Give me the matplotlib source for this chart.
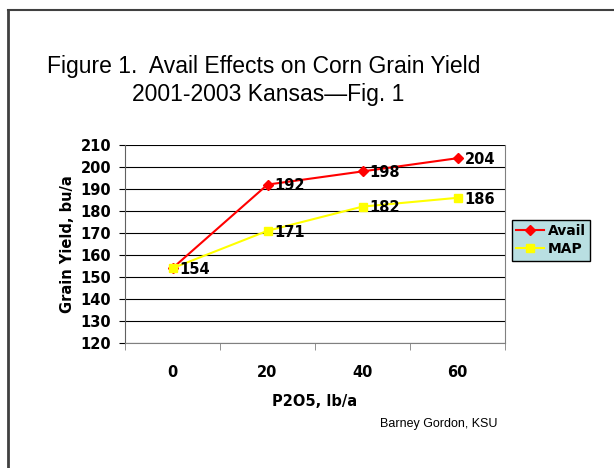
import matplotlib.pyplot as plt
from matplotlib.lines import Line2D

plt.rcParams['font.family'] = ['DejaVu Sans']

# data
p2o5 = ['0', '20', '40', '60']
avail = [154, 192, 198, 204]
map_ = [154, 171, 182, 186]

fig = plt.figure(figsize=(6.14, 4.68), dpi=100)
ax = fig.add_axes([125/614, 1-343/468, 380/614, 198/468])

x = range(len(p2o5))
ax.plot(x, avail, color='#ff0000', marker='D', markersize=5, lw=1.5, label='Avail')
ax.plot(x, map_, color='#ffff00', marker='s', markersize=6, lw=1.5, label='MAP')

for xi, v in zip(x, avail):
    ax.annotate(str(v), (xi, v), xytext=(5, -1), textcoords='offset points',
                va='center', ha='left', fontsize=10.5, fontweight='bold')
for xi, v in zip(x, map_):
    if xi == 0:
        continue
    ax.annotate(str(v), (xi, v), xytext=(5, -1), textcoords='offset points',
                va='center', ha='left', fontsize=10.5, fontweight='bold')

ax.set_ylim(120, 210)
ax.set_yticks(range(120, 211, 10))
ax.set_xlim(-0.5, 3.5)
ax.set_xticks(list(x))
ax.set_xticklabels(p2o5)
ax.set_xticks([-0.5, 0.5, 1.5, 2.5, 3.5], minor=True)
ax.tick_params(axis='x', which='major', length=0, pad=16)
ax.tick_params(axis='x', which='minor', length=5, direction='out', color='#808080')
ax.tick_params(axis='y', length=4, direction='out', pad=6)
for lab in ax.get_xticklabels() + ax.get_yticklabels():
    lab.set_fontsize(10.5)
    lab.set_fontweight('bold')
ax.yaxis.grid(True, color='black', lw=0.8)
ax.set_axisbelow(True)
ax.spines['top'].set_visible(False)
ax.spines['right'].set_color('#808080')
ax.spines['left'].set_color('#606060')
ax.spines['bottom'].set_color('#808080')

ax.set_ylabel('Grain Yield, bu/a', fontsize=10.5, fontweight='bold', labelpad=4)
ax.set_xlabel('P2O5, lb/a', fontsize=10.5, fontweight='bold', labelpad=10)

leg = ax.legend(loc='upper left', bbox_to_anchor=(512/614, 1-220/468),
                bbox_transform=fig.transFigure, fancybox=False, framealpha=1,
                facecolor='#b9dfe2', edgecolor='black',
                prop={'weight': 'bold', 'size': 10}, handlelength=2.0,
                borderpad=0.3, labelspacing=0.3, handletextpad=0.3, borderaxespad=0)
leg.get_frame().set_linewidth(1)

fig.text(264/614, 1-67/468, 'Figure 1.  Avail Effects on Corn Grain Yield',
         ha='center', va='center', fontsize=16.5, family='Liberation Sans')
fig.text(268/614, 1-94/468, '2001-2003 Kansas\u2014Fig. 1',
         ha='center', va='center', fontsize=16.5, family='Liberation Sans')
fig.text(380/614, 1-424/468, 'Barney Gordon, KSU', ha='left', va='center',
         fontsize=9, family='Liberation Sans')

# outer frame
fig.add_artist(Line2D([8/614, 8/614], [0, 1-10/468], color='#404040', lw=2, transform=fig.transFigure))
fig.add_artist(Line2D([8/614, 1], [1-10/468, 1-10/468], color='#404040', lw=1.5, transform=fig.transFigure))

fig.savefig('out.png', dpi=100)
